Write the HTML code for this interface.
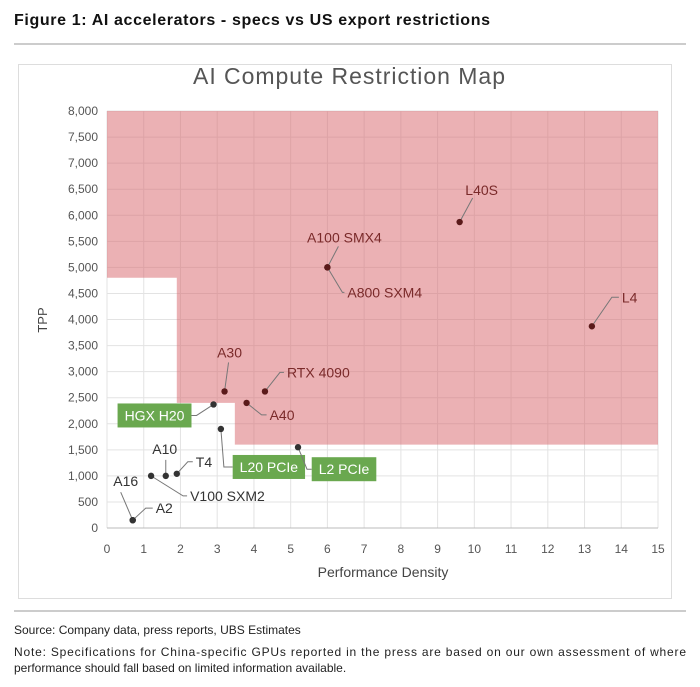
<!DOCTYPE html>
<html><head><meta charset="utf-8">
<style>
body{margin:0;background:#fff;font-family:"Liberation Sans",sans-serif;}
#wrap{position:relative;width:700px;height:687px;overflow:hidden;}
</style></head>
<body>
<div id="wrap">
<svg id="svg" width="700" height="687" xmlns="http://www.w3.org/2000/svg">
<text x="14" y="25" font-size="16" font-weight="bold" fill="#111" textLength="476">Figure 1: AI accelerators - specs vs US export restrictions</text>
<line x1="14" y1="44" x2="686" y2="44" stroke="#ccc" stroke-width="2"/>
<rect x="18.5" y="64.5" width="653" height="534" fill="#fff" stroke="#ddd"/>
<text x="349" y="78" font-size="23" fill="#555" text-anchor="middle" dominant-baseline="middle" textLength="312">AI Compute Restriction Map</text>
<g id="grid"></g><g id="zone"></g><g id="axes"></g><g id="marks"></g>
<text x="383" y="577" font-size="14" fill="#444" text-anchor="middle">Performance Density</text>
<text x="47" y="320" font-size="13" fill="#444" text-anchor="middle" transform="rotate(-90 47 320)">TPP</text>
<line x1="14" y1="611" x2="686" y2="611" stroke="#ccc" stroke-width="2"/>
<text x="14" y="634" font-size="12" fill="#222">Source: Company data, press reports, UBS Estimates</text>
<text x="14" y="656" font-size="12" fill="#222" textLength="672">Note: Specifications for China-specific GPUs reported in the press are based on our own assessment of where</text>
<text x="14" y="672" font-size="12" fill="#222">performance should fall based on limited information available.</text>
</svg>
</div>
<script>
const xTicks=[0,1,2,3,4,5,6,7,8,9,10,11,12,13,14,15];
const yTicks=[0,500,1000,1500,2000,2500,3000,3500,4000,4500,5000,5500,6000,6500,7000,7500,8000];
const names=["A16","A2","V100 SXM2","A10","T4","HGX H20","L20 PCIe","A30","A40","RTX 4090","L2 PCIe","A100 SMX4","A800 SXM4","L40S","L4"];
const perfDensity=[0.7,0.7,1.2,1.6,1.9,2.9,3.1,3.2,3.8,4.3,5.2,6.0,6.0,9.6,13.2];
const tpp=[150,150,1000,1000,1040,2370,1900,2620,2400,2620,1550,5000,5000,5870,3870];
const zoneX=[0,1.9,1.9,3.48,3.48,15,15,0];
const zoneY=[4800,4800,2400,2400,1600,1600,8000,8000];
// layout offsets (px, relative to point): label dx, dy, anchor, leader end dx, dy, green box
const lab=[[-7,-39,'middle',-12,-28,0],[23,-12,'start',13,-12,0],[39,20,'start',32,20,0],[-1,-27,'middle',0,-16,0],[19,-12,'start',11,-12,0],[-59,11,'middle',-17,11,1],[48,38,'middle',3,38,1],[5,-39,'middle',4,-29,0],[23,12,'start',15,12,0],[22,-19,'start',15,-19,0],[46,22,'middle',9,22,1],[17,-30,'middle',11,-21,0],[20,25,'start',15,25,0],[22,-32,'middle',13,-24,0],[30,-29,'start',20,-29,0]];
const X0=107,X1=658,Y0=528,Y1=111;
const sx=v=>X0+(v-0)/(15-0)*(X1-X0);
const sy=v=>Y0-(v-0)/(8000-0)*(Y0-Y1);
const NS="http://www.w3.org/2000/svg";
function mk(t,a,p){const e=document.createElementNS(NS,t);for(const k in a)e.setAttribute(k,a[k]);p.appendChild(e);return e;}
const grid=document.getElementById('grid'),axes=document.getElementById('axes'),zone=document.getElementById('zone'),marks=document.getElementById('marks');
xTicks.forEach(t=>{
 const l=mk('line',{x1:sx(t),x2:sx(t),y1:Y1,y2:Y0,stroke:'#e3e3e3'},grid);
 
 
 const tx=mk('text',{x:sx(t),y:Y0+25,'font-size':12,fill:'#555','text-anchor':'middle'},axes);
 tx.textContent=t;
 
 
});
yTicks.forEach(t=>{
 const l=mk('line',{x1:X0,x2:X1,y1:sy(t),y2:sy(t),stroke:'#e3e3e3'},grid);
 
 
 const tx=mk('text',{x:X0-9,y:sy(t)+4,'font-size':12,fill:'#555','text-anchor':'end'},axes);
 tx.textContent=t.toLocaleString('en-US');
 
 
});
const ax=mk('line',{x1:X0,x2:X1,y1:Y0,y2:Y0,stroke:'#bbb'},axes);


const pg=mk('polygon',{points:zoneX.map((v,i)=>sx(v)+','+sy(zoneY[i])).join(' '),fill:'rgba(215,100,105,0.5)'},zone);


const outside=["A16","A2","V100 SXM2","A10","T4"];
names.forEach((n,i)=>{
 const px=sx(perfDensity[i]),py=sy(tpp[i]);
 const [dx,dy,anc,ex,ey,g]=lab[i];
 const inside=!g&&!outside.includes(n);
 const col=inside?'#7a2a2a':'#333';
 const ln=mk('polyline',{fill:'none',stroke:'#777','stroke-width':1},marks);
 
 
 const c=mk('circle',{cx:px,cy:py,r:3.2,fill:inside?'#5a1a1a':'#333'},marks);
 
 
 const t=mk('text',{x:px+dx,y:py+dy+5,'font-size':14,fill:g?'#fff':col,'text-anchor':anc},marks);
 t.textContent=n;
 
 
 let endX=px+(anc==='start'?dx-3:ex);
 if(g){
  const w=t.getComputedTextLength()+14;
  const bx=px+dx-w/2;
  const r=mk('rect',{x:bx,y:py+dy-12,width:w,height:24,fill:'#6aa84f'},marks);
  marks.insertBefore(r,t);
  
  
  endX=dx<0?bx+w:bx;
 }
 ln.setAttribute('points',`${px},${py} ${px+ex},${py+ey} ${endX},${py+ey}`);
});
</script>
</body></html>
